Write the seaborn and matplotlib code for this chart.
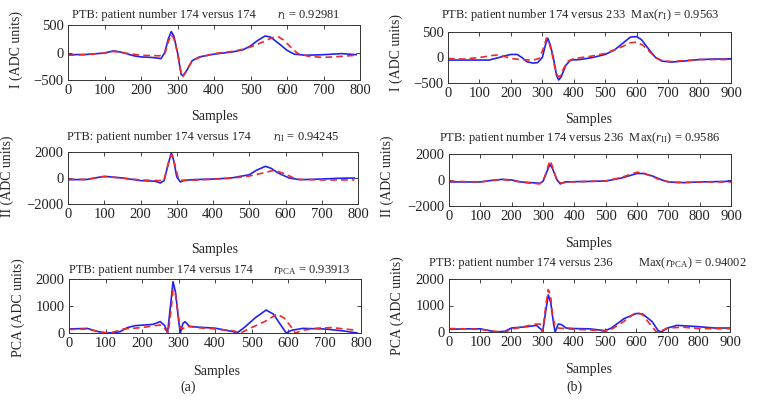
import numpy as np
import pandas as pd
import seaborn as sns
import matplotlib
matplotlib.use("Agg")
import matplotlib.pyplot as plt

# ---- data (sample index, ADC units) ----
a1_blue_x = [0, 50, 100, 125, 150, 180, 200, 230, 255, 265, 275, 283, 290, 300, 310, 315, 325, 340, 360, 400, 450, 480, 500, 520, 540, 555, 580, 600, 620, 650, 700, 750, 790]
a1_blue_y = [-40, -35, -10, 30, 0, -60, -80, -90, -110, 0, 250, 380, 300, 0, -400, -420, -330, -150, -80, -30, 10, 50, 120, 220, 300, 280, 150, 40, -30, -50, -40, -20, -40]
a1_red_x = [0, 50, 100, 125, 150, 200, 250, 265, 275, 283, 290, 300, 310, 315, 325, 340, 360, 400, 450, 480, 500, 530, 560, 575, 590, 610, 630, 660, 700, 750, 790]
a1_red_y = [-50, -40, -10, 20, -5, -50, -60, -30, 200, 330, 250, 0, -380, -440, -330, -150, -90, -20, 20, 60, 100, 180, 270, 290, 230, 100, -20, -70, -90, -70, -50]

b1_blue_x = [0, 50, 100, 130, 150, 180, 200, 220, 235, 250, 270, 285, 300, 310, 317, 325, 335, 345, 352, 360, 375, 390, 420, 460, 500, 530, 560, 580, 600, 615, 640, 660, 680, 710, 750, 800, 850, 900]
b1_blue_y = [-50, -50, -50, -50, -20, 30, 60, 60, 0, -80, -110, -100, 0, 250, 380, 250, 0, -350, -440, -380, -150, -50, -40, 0, 60, 150, 300, 400, 410, 350, 150, 0, -70, -90, -70, -40, -30, -30]
b1_red_x = [0, 50, 100, 140, 160, 180, 200, 230, 270, 290, 305, 313, 320, 330, 340, 348, 355, 365, 380, 400, 450, 500, 550, 580, 600, 620, 640, 660, 680, 710, 750, 800, 900]
b1_red_y = [-20, -30, 0, 40, 50, 20, -20, -40, -50, -20, 200, 380, 330, 100, -200, -360, -380, -250, -80, -20, 20, 80, 200, 290, 300, 240, 120, 0, -60, -80, -60, -40, -40]

a2_blue_x = [0, 50, 100, 150, 200, 240, 255, 265, 275, 285, 292, 300, 310, 320, 350, 400, 450, 500, 520, 545, 560, 580, 610, 640, 700, 750, 790]
a2_blue_y = [-130, -120, 130, 0, -200, -250, -380, -200, 900, 1950, 1300, 90, -300, -180, -120, -80, 0, 250, 600, 900, 750, 380, 0, -130, -80, -20, 0]
a2_red_x = [0, 50, 100, 150, 200, 250, 265, 280, 287, 295, 305, 320, 400, 450, 500, 540, 570, 600, 630, 700, 790]
a2_red_y = [-100, -100, 100, 0, -150, -200, -150, 1500, 1800, 1000, -100, -200, -100, -20, 150, 400, 600, 300, -100, -150, -150]

b2_blue_x = [0, 100, 130, 170, 200, 230, 290, 300, 315, 322, 330, 345, 355, 370, 400, 500, 550, 600, 620, 650, 680, 700, 750, 800, 900]
b2_blue_y = [-150, -150, -50, 50, 0, -150, -250, -100, 800, 1200, 900, 0, -300, -150, -130, -80, 150, 500, 500, 300, 0, -150, -200, -150, -100]
b2_red_x = [0, 100, 150, 170, 200, 240, 290, 305, 318, 323, 332, 345, 360, 380, 500, 550, 600, 620, 650, 680, 720, 800, 900]
b2_red_y = [-100, -150, 0, 50, -50, -200, -300, 200, 1200, 1500, 900, -100, -250, -150, -80, 200, 600, 550, 250, -50, -200, -150, -150]

a3_blue_x = [0, 50, 80, 100, 120, 140, 160, 180, 230, 250, 262, 270, 278, 285, 292, 300, 305, 312, 318, 330, 350, 400, 450, 460, 480, 510, 540, 560, 580, 595, 610, 640, 700, 750, 790]
a3_blue_y = [150, 170, 50, 10, 0, 50, 200, 270, 320, 420, 280, 0, 1000, 1900, 1500, 500, 0, 350, 420, 250, 220, 180, 50, 0, 200, 560, 850, 700, 300, 0, 100, 170, 150, 80, 0]
a3_red_x = [0, 50, 80, 100, 120, 150, 200, 250, 265, 272, 280, 285, 292, 300, 305, 312, 320, 350, 400, 450, 470, 500, 540, 570, 590, 610, 620, 640, 680, 720, 790]
a3_red_y = [130, 150, 50, 0, 30, 150, 200, 300, 120, 0, 900, 1600, 1400, 600, 200, 150, 250, 200, 150, 80, 0, 200, 450, 700, 550, 200, 0, 100, 180, 200, 100]

b3_blue_x = [0, 50, 100, 130, 150, 180, 200, 250, 280, 295, 300, 310, 318, 326, 335, 340, 350, 360, 375, 400, 450, 500, 520, 560, 600, 620, 650, 670, 680, 700, 730, 800, 850, 900]
b3_blue_y = [100, 120, 120, 50, 0, 30, 150, 200, 250, 100, 0, 800, 1400, 1100, 300, 0, 300, 280, 150, 130, 120, 50, 150, 500, 700, 680, 400, 50, 0, 150, 250, 200, 150, 150]
b3_red_x = [0, 50, 100, 150, 180, 200, 230, 280, 292, 300, 310, 318, 325, 332, 340, 350, 400, 450, 500, 520, 560, 600, 620, 650, 665, 680, 700, 750, 800, 900]
b3_red_y = [130, 120, 100, 20, 0, 100, 180, 300, 300, 0, 1000, 1600, 1400, 600, 200, 150, 100, 80, 30, 100, 400, 750, 650, 200, 0, 50, 150, 180, 130, 120]

ylabels = ["I (ADC units)", "II (ADC units)", "PCA (ADC units)"]
ylims = [(-500, 500), (-2000, 2000), (0, 2000)]
yticks = [[-500, 0, 500], [-2000, 0, 2000], [0, 1000, 2000]]

# ---- styling ----
sns.set_style("ticks")
plt.rcParams["font.family"] = ["Liberation Serif", "DejaVu Serif"]
plt.rcParams["mathtext.fontset"] = "custom"
plt.rcParams["mathtext.rm"] = "Liberation Serif"
plt.rcParams["mathtext.it"] = "Liberation Serif:italic"
plt.rcParams["axes.unicode_minus"] = True

W, H = 762, 403
fig = plt.figure(figsize=(W / 100, H / 100), dpi=100)

BLUE = "#2222ee"
RED = "#ee2a2a"


def add_axes(left, right, top, bottom):
    return fig.add_axes([left / W, 1 - bottom / H, (right - left) / W, (bottom - top) / H])


def label_pos(ax, box, xlab, ylab):
    left, right, top, bottom = box
    w, h = right - left, bottom - top
    ax.xaxis.set_label_coords((xlab[0] - left) / w, (bottom - xlab[1]) / h)
    ax.yaxis.set_label_coords((ylab[0] - left) / w, (bottom - ylab[1]) / h)


panels = [
    # box, data, row, xmax, xlabel pos, ylabel pos
    ((68, 360, 25, 80), (a1_blue_x, a1_blue_y, a1_red_x, a1_red_y), 0, 800, (215, 110), (23, 50)),
    ((448, 731, 32, 83), (b1_blue_x, b1_blue_y, b1_red_x, b1_red_y), 0, 900, (589, 113), (403, 52)),
    ((68, 358, 152, 204), (a2_blue_x, a2_blue_y, a2_red_x, a2_red_y), 1, 800, (215, 243), (14, 176)),
    ((449, 731, 154, 206), (b2_blue_x, b2_blue_y, b2_red_x, b2_red_y), 1, 900, (589, 237), (394, 176)),
    ((69, 361, 279, 333), (a3_blue_x, a3_blue_y, a3_red_x, a3_red_y), 2, 800, (217, 365), (25, 308)),
    ((449, 730, 279, 332), (b3_blue_x, b3_blue_y, b3_red_x, b3_red_y), 2, 900, (589, 363), (404, 306)),
]

for box, (bx, by, rx, ry), row, xmax, xl, yl in panels:
    ax = add_axes(*box)
    sns.lineplot(x=bx, y=by, ax=ax, color=BLUE, linewidth=1.2)
    sns.lineplot(x=rx, y=ry, ax=ax, color=RED, linewidth=1.2, linestyle=(0, (4, 2.5)))
    ax.set_xlim(0, xmax)
    ax.set_ylim(*ylims[row])
    ax.set_xticks(range(0, xmax + 1, 100))
    ax.set_yticks(yticks[row])
    ax.tick_params(direction="in", top=True, right=True, length=3, width=0.6,
                   labelsize=10.5, pad=3, colors="#222222")
    for s in ax.spines.values():
        s.set_linewidth(0.7)
        s.set_color("#333333")
    ax.set_xlabel("Samples", fontsize=10)
    ax.set_ylabel(ylabels[row], fontsize=10)
    label_pos(ax, box, xl, yl)


def ftxt(x, y, s, **kw):
    fig.text(x / W, 1 - y / H, s, va="center", ha="left", fontsize=9, **kw)


ftxt(72, 15, "PTB: patient number 174 versus 174")
ftxt(277, 15, r"$r_{\mathrm{I}}$ = 0.92981")
ftxt(441, 15, r"PTB: patient number 174 versus 233  Max($r_{\mathrm{I}}$) = 0.9563")
ftxt(67, 137, "PTB: patient number 174 versus 174")
ftxt(273, 137, r"$r_{\mathrm{II}}$ = 0.94245")
ftxt(439, 138, r"PTB: patient number 174 versus 236  Max($r_{\mathrm{II}}$) = 0.9586")
ftxt(69, 270, "PTB: patient number 174 versus 174")
ftxt(273, 270, r"$r_{\mathrm{PCA}}$ = 0.93913")
ftxt(429, 263, "PTB: patient number 174 versus 236")
ftxt(638, 263, r"Max($r_{\mathrm{PCA}}$) = 0.94002")

fig.text(188 / W, 1 - 387 / H, "(a)", ha="center", va="center", fontsize=10)
fig.text(574 / W, 1 - 387 / H, "(b)", ha="center", va="center", fontsize=10)

fig.savefig("out.png", dpi=100)
